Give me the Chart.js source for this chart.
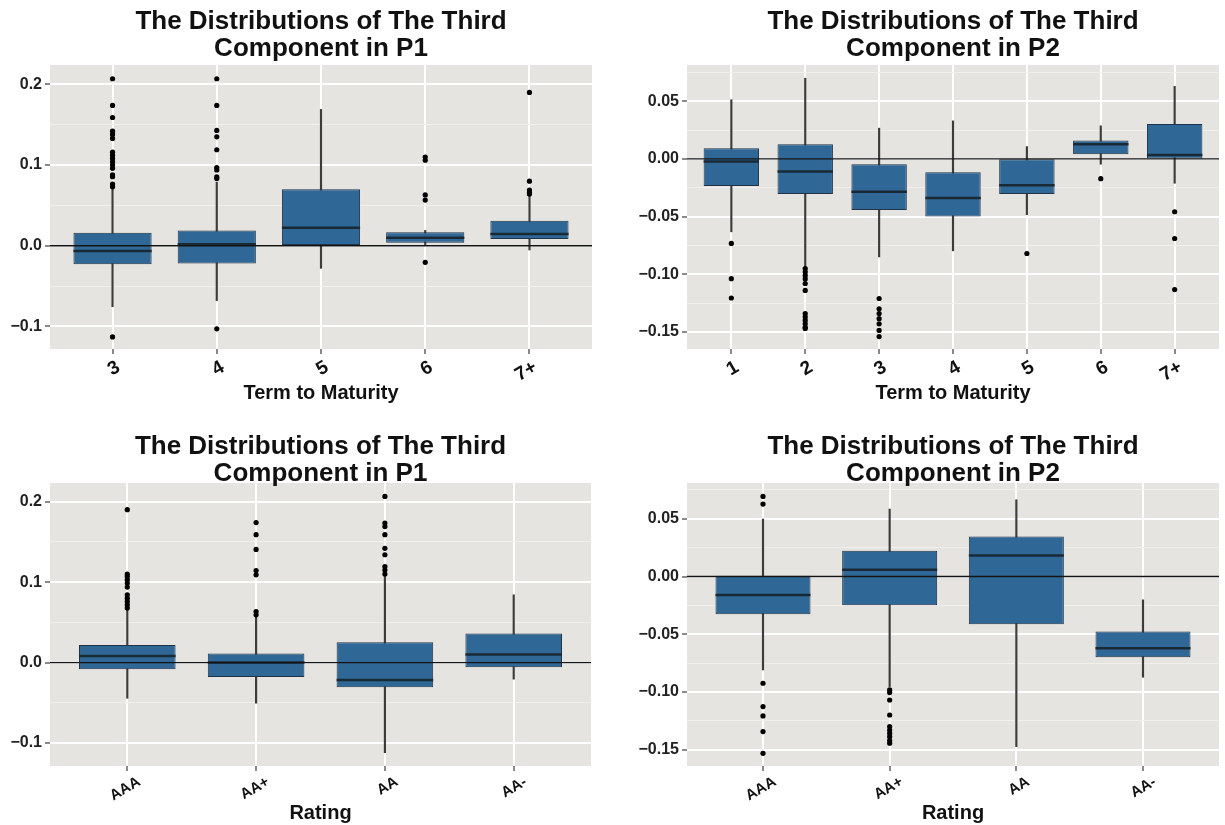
<!DOCTYPE html>
<html>
<head>
<meta charset="utf-8">
<title>Third component distributions</title>
<script src="https://cdn.jsdelivr.net/npm/chart.js@4.4.1/dist/chart.umd.min.js"></script>
<style>
    html, body { margin: 0; padding: 0; background: #fff; overflow: hidden; }
    canvas { position: absolute; }
</style>
</head>
<body>
<canvas id="term-p1" width="612" height="410" style="left:0;top:0"></canvas>
<canvas id="term-p2" width="613" height="410" style="left:612px;top:0"></canvas>
<canvas id="rating-p1" width="612" height="415" style="left:0;top:410px"></canvas>
<canvas id="rating-p2" width="613" height="415" style="left:612px;top:410px"></canvas>
<script>
// ---- data ----

// Term to Maturity, P1
const termP1Labels = ['3', '4', '5', '6', '7+'];
const termP1Low    = [-0.0756, -0.068, -0.028, 0.0008, -0.0053];
const termP1Q1     = [-0.023, -0.022, 0.001, 0.0037, 0.0083];
const termP1Median = [-0.0066, 0.002, 0.0223, 0.0099, 0.0145];
const termP1Q3     = [0.0161, 0.019, 0.070, 0.0166, 0.031];
const termP1High   = [0.071, 0.079, 0.169, 0.019, 0.067];
const termP1Outliers = [
    [0.207, 0.174, 0.159, 0.142, 0.138, 0.133, 0.116, 0.112, 0.108, 0.104, 0.100, 0.096, 0.088, 0.0855, 0.0765, 0.073, -0.113],
    [0.207, 0.174, 0.143, 0.135, 0.119, 0.097, 0.094, 0.0855, 0.0835, -0.103],
    [],
    [0.110, 0.106, 0.063, 0.0566, -0.0206],
    [0.190, 0.080, 0.069, 0.066, 0.064],
];

// Term to Maturity, P2
const termP2Labels = ['1', '2', '3', '4', '5', '6', '7+'];
const termP2Low    = [-0.0632, -0.0936, -0.085, -0.0797, -0.0484, -0.0046, -0.0211];
const termP2Q1     = [-0.0235, -0.0304, -0.0443, -0.050, -0.0304, 0.0041, 0.0003];
const termP2Median = [-0.0023, -0.011, -0.0284, -0.0339, -0.0229, 0.0128, 0.0035];
const termP2Q3     = [0.0093, 0.0128, -0.0046, -0.0116, -0.0003, 0.0159, 0.0302];
const termP2High   = [0.0513, 0.070, 0.0267, 0.033, 0.0107, 0.0287, 0.0629];
const termP2Outliers = [
    [-0.0733, -0.1038, -0.1206],
    [-0.095, -0.098, -0.101, -0.104, -0.108, -0.114, -0.134, -0.137, -0.140, -0.143, -0.146, -0.147],
    [-0.121, -0.130, -0.134, -0.1385, -0.143, -0.1487, -0.154],
    [],
    [-0.082],
    [-0.0171],
    [-0.0458, -0.069, -0.1133],
];

// Rating, P1
const ratingP1Labels = ['AAA', 'AA+', 'AA', 'AA-'];
const ratingP1Low    = [-0.0443, -0.0505, -0.112, -0.0206];
const ratingP1Q1     = [-0.0082, -0.0178, -0.0306, -0.0057];
const ratingP1Median = [0.0083, 0.0, -0.0215, 0.010];
const ratingP1Q3     = [0.022, 0.0112, 0.0254, 0.036];
const ratingP1High   = [0.0655, 0.0572, 0.107, 0.0842];
const ratingP1Outliers = [
    [0.190, 0.110, 0.107, 0.103, 0.0988, 0.0938, 0.0842, 0.080, 0.0759, 0.0718, 0.0677],
    [0.174, 0.159, 0.1406, 0.1144, 0.109, 0.0634, 0.0593],
    [0.2065, 0.1734, 0.169, 0.159, 0.142, 0.134, 0.1194, 0.115, 0.110],
    [],
];

// Rating, P2
const ratingP2Labels = ['AAA', 'AA+', 'AA', 'AA-'];
const ratingP2Low    = [-0.081, -0.0954, -0.1474, -0.0873];
const ratingP2Q1     = [-0.0326, -0.0248, -0.0413, -0.0699];
const ratingP2Median = [-0.0161, 0.0058, 0.0182, -0.0621];
const ratingP2Q3     = [0.0006, 0.0223, 0.0347, -0.0477];
const ratingP2High   = [0.0498, 0.0585, 0.0665, -0.0202];
const ratingP2Outliers = [
    [0.0694, 0.0628, -0.0925, -0.1127, -0.1208, -0.1344, -0.1532],
    [-0.0983, -0.1006, -0.107, -0.120, -0.130, -0.133, -0.1358, -0.1388, -0.1422, -0.1445],
    [],
    [],
];

// y axis ticks: labelled majors and unlabelled minors
const p1YTicks = [-0.1, 0.0, 0.1, 0.2];
const p1YTickLabels = ['\u22120.1', '0.0', '0.1', '0.2'];
const p1YMinor = [-0.05, 0.05, 0.15];
const p2YTicks = [-0.15, -0.10, -0.05, 0.0, 0.05];
const p2YTickLabels = ['\u22120.15', '\u22120.10', '\u22120.05', '0.00', '0.05'];
const p2YMinor = [-0.125, -0.075, -0.025, 0.025, 0.075];

const titleP1 = ['The Distributions of The Third', 'Component in P1'];
const titleP2 = ['The Distributions of The Third', 'Component in P2'];

Chart.defaults.font.family = "'Liberation Sans', Arial, sans-serif";

const BOX_FILL = '#2F6896';
const BOX_EDGE = '#1F3347';
const MEDIAN = '#1A2936';

// Plugin to paint the grey panel behind the grid
const panelBackground = {
    id: 'panelBackground',
    beforeDraw(chart) {
        const { ctx, chartArea: { left, top, width, height } } = chart;
        ctx.save();
        ctx.fillStyle = '#E6E4E1';
        ctx.fillRect(left, top, width, height);
        ctx.restore();
    }
};

// Plugin to draw the medians inside the boxes and the zero reference line
const mediansAndZero = {
    id: 'mediansAndZero',
    afterDatasetsDraw(chart) {
        const { ctx, chartArea, scales: { y } } = chart;
        const boxMeta = chart.getDatasetMeta(1);
        const boxData = chart.data.datasets[1].data;
        ctx.save();
        ctx.strokeStyle = MEDIAN;
        ctx.lineWidth = 2.5;
        boxMeta.data.forEach((bar, i) => {
            const { x, width } = bar.getProps(['x', 'width'], true);
            const py = y.getPixelForValue(boxData[i].median);
            ctx.beginPath();
            ctx.moveTo(x - width / 2, py);
            ctx.lineTo(x + width / 2, py);
            ctx.stroke();
        });
        const zy = y.getPixelForValue(0);
        ctx.strokeStyle = '#141414';
        ctx.lineWidth = 1.3;
        ctx.beginPath();
        ctx.moveTo(chartArea.left, zy);
        ctx.lineTo(chartArea.right, zy);
        ctx.stroke();
        ctx.restore();
    }
};

// Function to build one boxplot panel
function makePanel(canvasId, p) {
    const whiskers = p.labels.map((l, i) => ({ x: i + 1, y: [p.low[i], p.high[i]] }));
    const boxes = p.labels.map((l, i) => ({ x: i + 1, y: [p.q1[i], p.q3[i]], median: p.median[i] }));
    const outliers = [];
    p.outliers.forEach((list, i) => {
        list.forEach(v => outliers.push({ x: i + 1, y: v }));
    });

    const allY = p.yTicks.concat(p.yMinor).sort((a, b) => a - b);
    const isMajor = v => p.yTicks.some(t => Math.abs(t - v) < 1e-9);

    return new Chart(document.getElementById(canvasId), {
        type: 'bar',
        data: {
            datasets: [
                {
                    type: 'scatter',
                    data: outliers,
                    pointRadius: 2.6,
                    pointBackgroundColor: '#000',
                    pointBorderWidth: 0,
                    order: 0,
                },
                {
                    data: boxes,
                    backgroundColor: BOX_FILL,
                    borderColor: BOX_EDGE,
                    borderWidth: 1,
                    borderSkipped: false,
                    grouped: false,
                    barPercentage: 0.75,
                    categoryPercentage: 1,
                    order: 1,
                },
                {
                    data: whiskers,
                    backgroundColor: '#3C3C3C',
                    borderWidth: 0,
                    grouped: false,
                    barPercentage: 1,
                    categoryPercentage: 1,
                    maxBarThickness: 1.5,
                    order: 2,
                },
            ],
        },
        options: {
            responsive: false,
            animation: false,
            events: [],
            layout: { padding: p.padding },
            plugins: {
                legend: { display: false },
                tooltip: { enabled: false },
                title: {
                    display: true,
                    text: p.title,
                    fullSize: false,
                    color: '#111',
                    font: { size: 26, weight: 'bold', lineHeight: 1.02 },
                    padding: p.titlePadding,
                },
            },
            scales: {
                x: {
                    type: 'linear',
                    min: 0.4,
                    max: p.labels.length + 0.6,
                    offset: false,
                    afterBuildTicks: axis => {
                        axis.ticks = p.labels.map((l, i) => ({ value: i + 1 }));
                    },
                    afterFit: scale => { scale.height = p.xHeight; },
                    ticks: {
                        autoSkip: false,
                        minRotation: 30,
                        maxRotation: 30,
                        padding: 2,
                        labelOffset: p.xLabelShift,
                        color: '#111',
                        font: { size: p.xFontSize, weight: 'bold' },
                        callback: (value, index) => p.labels[index],
                    },
                    grid: {
                        offset: false,
                        color: '#FFFFFF',
                        lineWidth: 2,
                        tickLength: 5,
                        tickColor: '#8A8A8A',
                    },
                    border: { display: false },
                    title: {
                        display: true,
                        text: p.xTitle,
                        color: '#111',
                        font: { size: 20, weight: 'bold', lineHeight: 1.2 },
                        padding: { top: 0, bottom: p.xTitleBottom },
                    },
                },
                y: {
                    type: 'linear',
                    min: p.yMin,
                    max: p.yMax,
                    afterBuildTicks: axis => {
                        axis.ticks = allY.map(v => ({ value: v }));
                    },
                    afterFit: scale => { scale.width = p.yWidth; },
                    ticks: {
                        autoSkip: false,
                        padding: 3,
                        color: '#222',
                        font: { size: 16, weight: 'bold' },
                        callback: value => {
                            const k = p.yTicks.findIndex(t => Math.abs(t - value) < 1e-9);
                            return k >= 0 ? p.yTickLabels[k] : '';
                        },
                    },
                    grid: {
                        color: c => (c.tick && isMajor(c.tick.value)) ? '#FFFFFF' : '#F1F0EE',
                        lineWidth: c => (c.tick && isMajor(c.tick.value)) ? 2 : 1,
                        tickLength: 5,
                        tickColor: c => (c.tick && isMajor(c.tick.value)) ? '#8A8A8A' : 'rgba(0,0,0,0)',
                    },
                    border: { display: false },
                },
            },
        },
        plugins: [panelBackground, mediansAndZero],
    });
}

makePanel('term-p1', {
    labels: termP1Labels, low: termP1Low, q1: termP1Q1, median: termP1Median,
    q3: termP1Q3, high: termP1High, outliers: termP1Outliers,
    yTicks: p1YTicks, yTickLabels: p1YTickLabels, yMinor: p1YMinor,
    yMin: -0.128, yMax: 0.224,
    title: titleP1, titlePadding: { top: 9, bottom: 3 },
    xTitle: 'Term to Maturity', xTitleBottom: 5, xFontSize: 19, xLabelShift: 6,
    padding: { left: 0, right: 20, top: 0, bottom: 0 },
    yWidth: 50, xHeight: 61,
});

makePanel('term-p2', {
    labels: termP2Labels, low: termP2Low, q1: termP2Q1, median: termP2Median,
    q3: termP2Q3, high: termP2High, outliers: termP2Outliers,
    yTicks: p2YTicks, yTickLabels: p2YTickLabels, yMinor: p2YMinor,
    yMin: -0.1648, yMax: 0.0814,
    title: titleP2, titlePadding: { top: 9, bottom: 3 },
    xTitle: 'Term to Maturity', xTitleBottom: 5, xFontSize: 19, xLabelShift: 6,
    padding: { left: 15, right: 6, top: 0, bottom: 0 },
    yWidth: 60, xHeight: 61,
});

makePanel('rating-p1', {
    labels: ratingP1Labels, low: ratingP1Low, q1: ratingP1Q1, median: ratingP1Median,
    q3: ratingP1Q3, high: ratingP1High, outliers: ratingP1Outliers,
    yTicks: p1YTicks, yTickLabels: p1YTickLabels, yMinor: p1YMinor,
    yMin: -0.1285, yMax: 0.2231,
    title: titleP1, titlePadding: { top: 24, bottom: -4 },
    xTitle: 'Rating', xTitleBottom: 0, xFontSize: 15, xLabelShift: 12,
    padding: { left: 0, right: 21, top: 0, bottom: 0 },
    yWidth: 50, xHeight: 59,
});

makePanel('rating-p2', {
    labels: ratingP2Labels, low: ratingP2Low, q1: ratingP2Q1, median: ratingP2Median,
    q3: ratingP2Q3, high: ratingP2High, outliers: ratingP2Outliers,
    yTicks: p2YTicks, yTickLabels: p2YTickLabels, yMinor: p2YMinor,
    yMin: -0.1642, yMax: 0.081,
    title: titleP2, titlePadding: { top: 24, bottom: -4 },
    xTitle: 'Rating', xTitleBottom: 0, xFontSize: 15, xLabelShift: 12,
    padding: { left: 15, right: 6, top: 0, bottom: 0 },
    yWidth: 60, xHeight: 59,
});
</script>
</body>
</html>
